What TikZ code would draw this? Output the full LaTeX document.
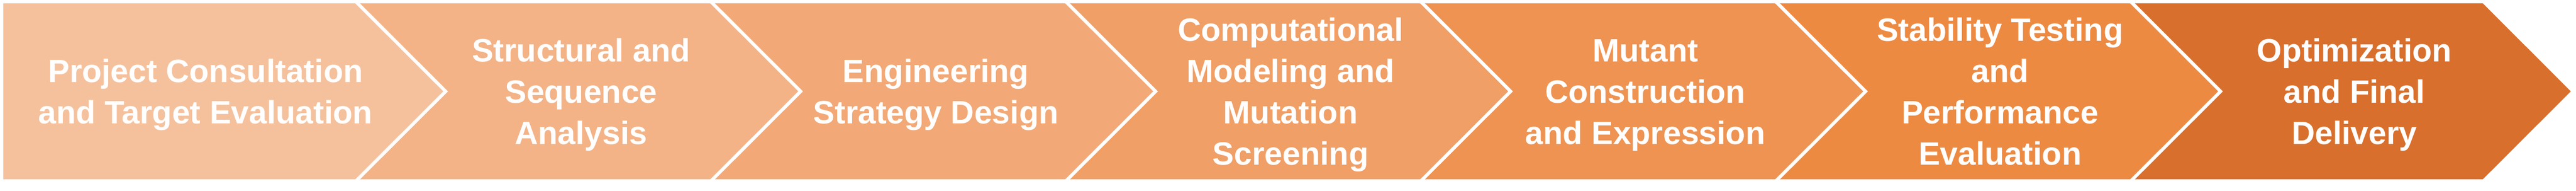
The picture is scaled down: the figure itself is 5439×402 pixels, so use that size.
\documentclass[tikz,border=0pt]{standalone}
\usepackage{fontspec}
\setmainfont{Liberation Sans}
\definecolor{cA}{HTML}{F5C19D}
\definecolor{cB}{HTML}{F3B387}
\definecolor{cC}{HTML}{F2A977}
\definecolor{cD}{HTML}{F09F66}
\definecolor{cE}{HTML}{EE9352}
\definecolor{cF}{HTML}{ED8A42}
\definecolor{cG}{HTML}{D96F2C}
\newcommand\mytopstrut{\rule{0pt}{68pt}}
\newcommand\mybotstrut{\rule[-19.3pt]{0pt}{19.3pt}}
\begin{document}
\begin{tikzpicture}[x=1pt,y=-1pt,
  lbl/.style={text=white, font=\fontsize{68}{87}\selectfont\bfseries, align=center, inner sep=0pt},
  sepline/.style={draw=white, line width=7pt, line join=miter}]
\useasboundingbox (0,0) rectangle (5439,402);
% chevron bodies
\fill[cA] (7,7) -- (755,7) -- (941,192.5) -- (755,378) -- (7,378) -- cycle;
\foreach \l/\r/\c in {755/1504.5/cB, 1504.5/2254/cC, 2254/3003.5/cD, 3003.5/3753/cE, 3753/4502.5/cF}{
  \fill[\c] (\l,7) -- (\r,7) -- ({\r+186},192.5) -- (\r,378) -- (\l,378) -- ({\l+186},192.5) -- cycle;
}
\fill[cG] (4502.5,7) -- (5242,7) -- (5428,192.5) -- (5242,378) -- (4502.5,378) -- (4688.5,192.5) -- cycle;
% white separators
\foreach \b in {755,1504.5,2254,3003.5,3753,4502.5}{
  \draw[sepline] ({\b-5},2) -- ({\b+186},192.5) -- ({\b-5},383);
}
% labels
\node[lbl] (t1) at (434,192.5) {\mytopstrut Project Consultation\\and Target Evaluation\mybotstrut};
\node[lbl] (t2) at (1227,192.5) {\mytopstrut Structural and\\Sequence\\Analysis\mybotstrut};
\node[lbl] (t3) at (1976,192.5) {\mytopstrut Engineering\\Strategy Design\mybotstrut};
\node[lbl] (t4) at (2725,192.5) {\mytopstrut Computational\\Modeling and\\Mutation\\Screening\mybotstrut};
\node[lbl] (t5) at (3474,192.5) {\mytopstrut Mutant\\Construction\\and Expression\mybotstrut};
\node[lbl] (t6) at (4223,192.5) {\mytopstrut Stability Testing\\and\\Performance\\Evaluation\mybotstrut};
\node[lbl] (t7) at (4971,192.5) {\mytopstrut Optimization\\and Final\\Delivery\mybotstrut};
\end{tikzpicture}
\end{document}
